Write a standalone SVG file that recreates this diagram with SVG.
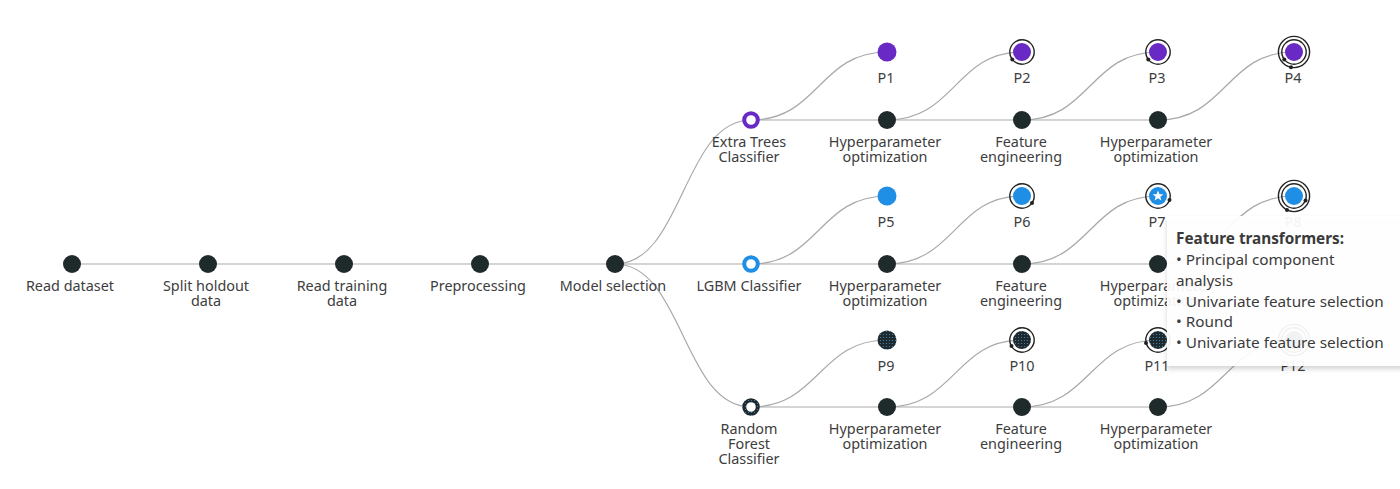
<svg xmlns="http://www.w3.org/2000/svg" width="1400" height="489" viewBox="0 0 1400 489">
<style>
.edge{fill:none;stroke:#a9a9a9;stroke-width:1.2}
.lbl{font-family:"Noto Sans","Liberation Sans",sans-serif;font-size:14.4px;fill:#3d3d3d;text-anchor:middle}
.pn{fill:#1f2a2a}
.ring{fill:none;stroke:#222;stroke-width:1.4}
.dot{fill:#222}
.pu{fill:#6929c4}
.bl{fill:#1f8fe5}
.tt{font-family:"Noto Sans","Liberation Sans",sans-serif;font-size:15.3px;fill:#3a3a3a}
</style>
<defs>
<pattern id="dots" width="3" height="3" patternUnits="userSpaceOnUse">
<rect width="3" height="3" fill="#1c2a30"/>
<circle cx="1.5" cy="1.5" r="0.6" fill="#4f86b0"/>
</pattern>
<filter id="sh" x="-10%" y="-10%" width="130%" height="130%">
<feDropShadow dx="0" dy="3" stdDeviation="2.5" flood-color="#000" flood-opacity="0.18"/>
</filter>
</defs>
<rect width="1400" height="489" fill="#fff"/>
<g id="connectors">
<path class="edge" d="M72,264 H751 H1158"/>
<path class="edge" d="M615,264 C683,264 683,120 751,120"/>
<path class="edge" d="M615,264 C683,264 683,407 751,407"/>
<path class="edge" d="M751,120 H1158"/>
<path class="edge" d="M751,407 H1158"/>
<path class="edge" d="M751,120 C819,120 819,52 887,52"/>
<path class="edge" d="M887,120 C955,120 955,52 1022,52"/>
<path class="edge" d="M1022,120 C1090,120 1090,52 1158,52"/>
<path class="edge" d="M1158,120 C1226,120 1226,52 1294,52"/>
<path class="edge" d="M751,264 C819,264 819,196 887,196"/>
<path class="edge" d="M887,264 C955,264 955,196 1022,196"/>
<path class="edge" d="M1022,264 C1090,264 1090,196 1158,196"/>
<path class="edge" d="M1158,264 C1226,264 1226,196 1294,196"/>
<path class="edge" d="M751,407 C819,407 819,340 887,340"/>
<path class="edge" d="M887,407 C955,407 955,340 1022,340"/>
<path class="edge" d="M1022,407 C1090,407 1090,340 1158,340"/>
<path class="edge" d="M1158,407 C1226,407 1226,340 1294,340"/>
</g>
<g id="n-read-dataset"><circle class="pn" cx="72" cy="264" r="9"/><text class="lbl" x="70" y="291">Read dataset</text></g>
<g id="n-split"><circle class="pn" cx="208" cy="264" r="9"/><text class="lbl" y="291"><tspan x="206">Split holdout</tspan><tspan x="206" dy="15">data</tspan></text></g>
<g id="n-read-training"><circle class="pn" cx="344" cy="264" r="9"/><text class="lbl" y="291"><tspan x="342">Read training</tspan><tspan x="342" dy="15">data</tspan></text></g>
<g id="n-preprocessing"><circle class="pn" cx="480" cy="264" r="9"/><text class="lbl" x="478" y="291">Preprocessing</text></g>
<g id="n-model-selection"><circle class="pn" cx="615" cy="264" r="9"/><text class="lbl" x="613" y="291">Model selection</text></g>

<g id="n-extra-trees"><circle cx="751" cy="120" r="6.8" fill="#fff" stroke="#6929c4" stroke-width="4"/><text class="lbl" y="147"><tspan x="749">Extra Trees</tspan><tspan x="749" dy="15">Classifier</tspan></text></g>
<g id="n-lgbm"><circle cx="751" cy="264" r="6.8" fill="#fff" stroke="#1f8fe5" stroke-width="4"/><text class="lbl" x="749" y="291">LGBM Classifier</text></g>
<g id="n-rf"><circle cx="751" cy="407" r="6.8" fill="#fff" stroke="url(#dots)" stroke-width="4"/><text class="lbl" y="434"><tspan x="749">Random</tspan><tspan x="749" dy="15">Forest</tspan><tspan x="749" dy="15">Classifier</tspan></text></g>

<g id="n-et-hpo1"><circle class="pn" cx="887" cy="120" r="9"/><text class="lbl" y="147"><tspan x="885">Hyperparameter</tspan><tspan x="885" dy="15">optimization</tspan></text></g>
<g id="n-et-fe"><circle class="pn" cx="1022" cy="120" r="9"/><text class="lbl" y="147"><tspan x="1021">Feature</tspan><tspan x="1021" dy="15">engineering</tspan></text></g>
<g id="n-et-hpo2"><circle class="pn" cx="1158" cy="120" r="9"/><text class="lbl" y="147"><tspan x="1156">Hyperparameter</tspan><tspan x="1156" dy="15">optimization</tspan></text></g>
<g id="n-lg-hpo1"><circle class="pn" cx="887" cy="264" r="9"/><text class="lbl" y="291"><tspan x="885">Hyperparameter</tspan><tspan x="885" dy="15">optimization</tspan></text></g>
<g id="n-lg-fe"><circle class="pn" cx="1022" cy="264" r="9"/><text class="lbl" y="291"><tspan x="1021">Feature</tspan><tspan x="1021" dy="15">engineering</tspan></text></g>
<g id="n-lg-hpo2"><circle class="pn" cx="1158" cy="264" r="9"/><text class="lbl" y="291"><tspan x="1156">Hyperparameter</tspan><tspan x="1156" dy="15">optimization</tspan></text></g>
<g id="n-rf-hpo1"><circle class="pn" cx="887" cy="407" r="9"/><text class="lbl" y="434"><tspan x="885">Hyperparameter</tspan><tspan x="885" dy="15">optimization</tspan></text></g>
<g id="n-rf-fe"><circle class="pn" cx="1022" cy="407" r="9"/><text class="lbl" y="434"><tspan x="1021">Feature</tspan><tspan x="1021" dy="15">engineering</tspan></text></g>
<g id="n-rf-hpo2"><circle class="pn" cx="1158" cy="407" r="9"/><text class="lbl" y="434"><tspan x="1156">Hyperparameter</tspan><tspan x="1156" dy="15">optimization</tspan></text></g>

<g id="n-p1"><circle class="pu" cx="887" cy="52" r="9.5"/><text class="lbl" x="886" y="83">P1</text></g>
<g id="n-p2"><circle class="pu" cx="1022" cy="52" r="9"/><circle class="ring" cx="1022" cy="52" r="12.2"/><circle class="dot" cx="1012.3" cy="59.4" r="2"/><text class="lbl" x="1022" y="83">P2</text></g>
<g id="n-p3"><circle class="pu" cx="1158" cy="52" r="9"/><circle class="ring" cx="1158" cy="52" r="12.2"/><circle class="dot" cx="1148.3" cy="59.4" r="2"/><text class="lbl" x="1157" y="83">P3</text></g>
<g id="n-p4"><circle class="pu" cx="1294" cy="52" r="9"/><circle class="ring" cx="1294" cy="52" r="12.2"/><circle class="ring" cx="1294" cy="52" r="15.6"/><circle class="dot" cx="1284.3" cy="59.4" r="2"/><circle class="dot" cx="1291" cy="67.3" r="2"/><text class="lbl" x="1293" y="83">P4</text></g>

<g id="n-p5"><circle class="bl" cx="887" cy="196" r="9.5"/><text class="lbl" x="886" y="227">P5</text></g>
<g id="n-p6"><circle class="bl" cx="1022" cy="196" r="9"/><circle class="ring" cx="1022" cy="196" r="12.2"/><circle class="dot" cx="1032" cy="203" r="2"/><text class="lbl" x="1022" y="227">P6</text></g>
<g id="n-p7"><circle class="bl" cx="1158" cy="196" r="9"/><circle class="ring" cx="1158" cy="196" r="12.2"/><circle class="dot" cx="1169.5" cy="200" r="2"/><polygon fill="#fff" points="1158,190.5 1159.5,194.2 1163.3,194.3 1160.3,196.7 1161.4,200.4 1158,198.3 1154.6,200.4 1155.7,196.7 1152.7,194.3 1156.5,194.2"/><text class="lbl" x="1157" y="227">P7</text></g>
<g id="n-p8"><circle class="bl" cx="1294" cy="196" r="9"/><circle class="ring" cx="1294" cy="196" r="12.2"/><circle class="ring" cx="1294" cy="196" r="15.6"/><circle class="dot" cx="1305.5" cy="200.5" r="2"/><circle class="dot" cx="1287" cy="210" r="2"/><text class="lbl" x="1293" y="227">P8</text></g>

<g id="n-p9"><circle fill="url(#dots)" cx="887" cy="340" r="9.5"/><text class="lbl" x="886" y="371">P9</text></g>
<g id="n-p10"><circle fill="url(#dots)" cx="1022" cy="340" r="9"/><circle class="ring" cx="1022" cy="340" r="12.2"/><circle class="dot" cx="1011.5" cy="346" r="2"/><text class="lbl" x="1022" y="371">P10</text></g>
<g id="n-p11"><circle fill="url(#dots)" cx="1158" cy="340" r="9"/><circle class="ring" cx="1158" cy="340" r="12.2"/><circle class="dot" cx="1146" cy="343" r="2"/><text class="lbl" x="1157" y="371">P11</text></g>
<g id="n-p12"><circle fill="url(#dots)" cx="1294" cy="340" r="9"/><circle class="ring" cx="1294" cy="340" r="12.2"/><circle class="ring" cx="1294" cy="340" r="15.6"/><text class="lbl" x="1293" y="371">P12</text></g>

<g id="tooltip">
<rect x="1167" y="216" width="245" height="150" fill="#fff" fill-opacity="0.93" filter="url(#sh)"/>
<text class="tt" x="1176" y="244" font-weight="bold">Feature transformers:</text>
<text class="tt" y="265"><tspan x="1176">• Principal component</tspan><tspan x="1176" dy="21">analysis</tspan><tspan x="1176" dy="20.5">• Univariate feature selection</tspan><tspan x="1176" dy="20.5">• Round</tspan><tspan x="1176" dy="21">• Univariate feature selection</tspan></text>
</g>
</svg>
